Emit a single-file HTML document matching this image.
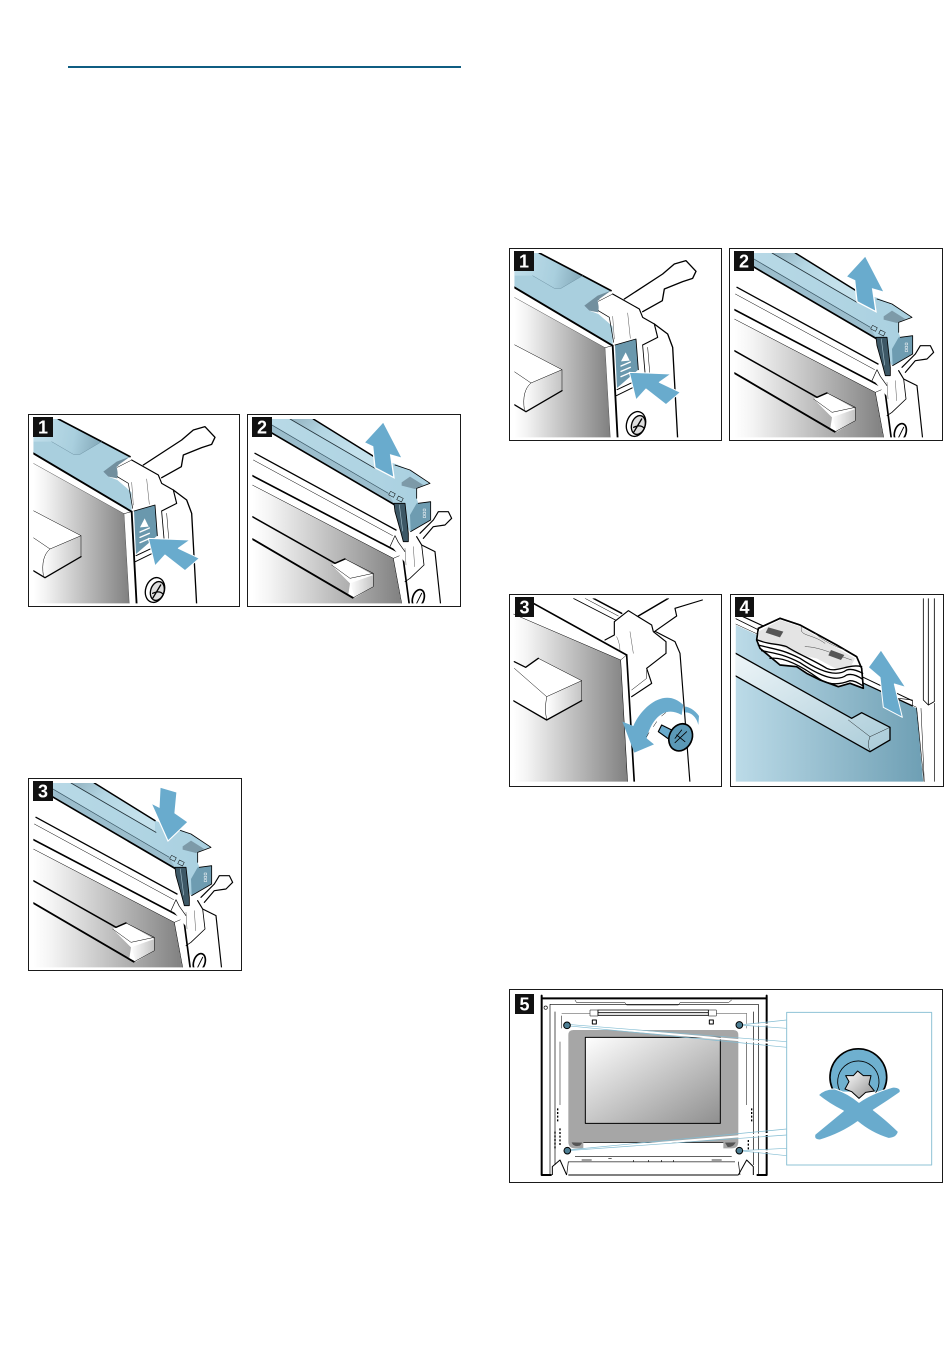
<!DOCTYPE html>
<html><head><meta charset="utf-8"><title>Diagram</title>
<style>html,body{margin:0;padding:0;background:#fff}svg{display:block}
text{font-family:"Liberation Sans",sans-serif;font-weight:bold;fill:#fff;text-anchor:middle}</style></head>
<body>
<svg xmlns="http://www.w3.org/2000/svg" width="950" height="1370" viewBox="0 0 950 1370">
<defs>
<linearGradient id="g" x1="0" x2="1" y1="0" y2="0"><stop offset="0" stop-color="#fff"/><stop offset=".12" stop-color="#f4f4f4"/><stop offset="1" stop-color="#808080"/></linearGradient>
<linearGradient id="gd" x1="0" x2="1" y1="0" y2="1"><stop offset="0" stop-color="#fff"/><stop offset="1" stop-color="#8f8f8f"/></linearGradient>
<linearGradient id="gh" x1="0" x2="1" y1="0" y2="0"><stop offset="0" stop-color="#fff"/><stop offset="1" stop-color="#c4c4c4"/></linearGradient>
<linearGradient id="b" x1="0" x2="1" y1="0" y2="0"><stop offset="0" stop-color="#bcdbe8"/><stop offset="1" stop-color="#6e9fb4"/></linearGradient>
<linearGradient id="bh" x1="0" x2="1" y1="0" y2="1"><stop offset="0" stop-color="#eef5f8"/><stop offset="1" stop-color="#a9cbd8"/></linearGradient>
<linearGradient id="bar" x1="0" x2="1" y1="0" y2="0"><stop offset="0" stop-color="#b8d9e6"/><stop offset="1" stop-color="#a9d0e0"/></linearGradient>
<linearGradient id="lite" gradientUnits="userSpaceOnUse" x1="40" y1="70" x2="245" y2="110"><stop offset="0" stop-color="#c0deea"/><stop offset=".6" stop-color="#a9cfde"/><stop offset="1" stop-color="#83a8b8"/></linearGradient>
<linearGradient id="top2" gradientUnits="userSpaceOnUse" x1="790" y1="40" x2="960" y2="190"><stop offset="0" stop-color="#8cabb9"/><stop offset=".5" stop-color="#b4d6e3"/><stop offset="1" stop-color="#c4e1ec"/></linearGradient>
<clipPath id="c1"><rect x="40" y="42" width="615" height="553"/></clipPath>
<clipPath id="c2"><rect x="697" y="42" width="620" height="553"/></clipPath>
<clipPath id="c3"><rect x="25" y="25" width="615" height="550"/></clipPath>
<clipPath id="c4"><rect x="692" y="25" width="615" height="550"/></clipPath>

<g id="s1" clip-path="url(#c1)" fill="none" stroke="#000" stroke-linejoin="round" stroke-linecap="round">
  <polygon points="40,175 312,326 328,600 40,600" fill="url(#g)" stroke="none"/>
  <polyline points="40,175 312,326 328,600" stroke-width="1.5" stroke="#555"/>
  <polygon points="40,315 183,392 183,455 75,518 40,497" fill="#fff" stroke="none"/>
  <polygon points="90,432 183,392 183,455 75,518 68,460" fill="url(#gh)" stroke="none"/>
  <polyline points="40,317 183,392 183,455" stroke-width="1.5"/>
  <polyline points="183,455 75,518 40,497" stroke-width="4"/>
  <polyline points="40,398 90,432 183,392" stroke-width="1.5"/>
  <path d="M90,432 Q62,455 70,512" stroke-width="1.5"/>
  <polyline points="370,180 485,105 520,75 555,65 585,97 575,118 545,128 490,150 484,185 425,218" fill="#fff" stroke-width="4"/>
  <polyline points="460,255 500,285 515,325 530,600" stroke-width="4"/>
  <polygon points="40,42 115,42 330,155 265,200 265,215 292,225 335,262 335,322 40,145" fill="#a9cfde" stroke="none"/>
  <polygon points="40,42 115,42 245,110 180,148 160,148 95,110 40,110" fill="url(#lite)" stroke="none"/>
  <polyline points="115,42 245,110 330,155" stroke-width="5"/>
  <polyline points="95,110 160,148 180,148 245,110" stroke-width="1.5" stroke="#6f93a4"/>
  <line x1="40" y1="145" x2="335" y2="320" stroke-width="5.5"/>
  <polyline points="335,320 350,600" stroke-width="5.5"/>
  <polyline points="312,326 335,320" stroke-width="1.5"/>
  <polygon points="250,200 290,170 330,155 295,180 292,220 265,215" fill="#728f9e" stroke="none"/>
  <polygon points="290,185 335,165 415,210 425,235 460,255 468,292 425,318 355,318 335,265 325,230 295,215" fill="#fff" stroke="none"/>
  <polyline points="335,165 415,210 425,235 460,255 470,295 425,318" stroke-width="3.5"/>
  <polyline points="292,187 335,165" stroke-width="1.5"/>
  <polyline points="292,215 325,235 338,310" stroke-width="2"/>
  <polyline points="335,232 340,300" stroke-width="1"/><polyline points="380,222 388,298" stroke-width="1"/>
  <polygon points="342,318 405,300 412,392 348,447" fill="#6a98ad" stroke="none"/>
  <polyline points="342,318 405,300 412,392" stroke-width="2.5"/>
  <polygon points="374,340 386,365 360,367" fill="#fff" stroke="none"/>
  <g stroke="#fff" stroke-width="4"><line x1="360" y1="381" x2="388" y2="369"/><line x1="360" y1="397" x2="388" y2="385"/><line x1="360" y1="413" x2="388" y2="401"/></g>
  <polyline points="348,452 395,430" stroke-width="3"/><polyline points="346,470 395,446" stroke-width="3"/>
  <polyline points="425,320 432,400" stroke-width="2.5"/><polyline points="440,325 446,400" stroke-width="1.5"/>
  <polygon points="385,400 510,405 475,430 538,460 495,497 435,450 405,483" fill="#69abcd" stroke="#fff" stroke-width="3"/>
  <ellipse cx="405" cy="555" rx="28" ry="38" transform="rotate(18 405 555)" fill="#fff" stroke-width="4"/>
  <ellipse cx="412" cy="558" rx="20" ry="29" transform="rotate(18 412 558)" fill="#ddd" stroke-width="4"/>
  <path d="M398,580 L422,540 M398,565 Q418,555 430,568" stroke-width="4"/>
</g>

<g id="s2" fill="none" stroke="#000" stroke-linejoin="round" stroke-linecap="round">
  <g clip-path="url(#c2)">
  <polygon points="697,240 1120,460 1145,600 697,600" fill="url(#g)" stroke="none"/>
  <line x1="705" y1="145" x2="1128" y2="375" stroke-width="4"/>
  <line x1="700" y1="165" x2="1118" y2="392" stroke-width="1.5"/>
  <line x1="697" y1="212" x2="1148" y2="448" stroke-width="5"/>
  <line x1="697" y1="240" x2="1120" y2="460" stroke-width="1.5"/>
  <polyline points="1120,460 1146,600" stroke-width="1.5"/>
  <polyline points="1148,448 1168,600" stroke-width="5"/>
  <polyline points="1120,460 1148,448" stroke-width="1.5"/>
  <polygon points="935,480 975,462 1060,510 1060,545 1005,578 985,568 990,535" fill="#fff" stroke="none"/>
  <polygon points="990,535 1060,510 1060,545 1005,578" fill="url(#gh)" stroke="none"/>
  <polyline points="697,335 945,475 975,462" stroke-width="4.5"/>
  <polyline points="935,480 990,520 1060,505 1060,545 1000,578" stroke-width="1.5"/>
  <polyline points="975,462 1060,505" stroke-width="1.5"/>
  <line x1="697" y1="402" x2="998" y2="578" stroke-width="5.5"/>
  <polyline points="1200,385 1240,345 1255,320 1285,320 1295,340 1275,360 1240,365 1210,400" fill="#fff" stroke-width="3.5"/>
  <polyline points="1120,430 1130,395 1138,385 1200,405 1205,420 1245,440 1262,600" fill="#fff" stroke="none"/>
  <polyline points="1110,425 1125,392 1135,412 1155,440" stroke-width="2"/>
  <polyline points="1190,395 1205,420 1245,440 1262,600" stroke-width="3.5"/>
  <polyline points="1205,420 1212,480 1170,520 1155,530" stroke-width="2.5"/>
  <line x1="1155" y1="430" x2="1158" y2="480" stroke-width="1" /><line x1="1180" y1="425" x2="1184" y2="485" stroke-width="1"/>
  <ellipse cx="1195" cy="580" rx="17" ry="27" transform="rotate(18 1195 580)" fill="#fff" stroke-width="5"/>
  <path d="M1190,595 L1205,565" stroke-width="3"/>
  <polygon points="752,42 880,42 1062,155 1130,178 1170,195 1230,235 1190,250 1190,280 1195,295 1232,290 1232,345 1170,380 1160,365 1130,295 1125,300 752,82" fill="url(#bar)" stroke="none"/>
  <polygon points="810,42 880,42 1062,155 1062,190" fill="url(#top2)" stroke="none"/>
  <polygon points="752,56 1105,265 1125,300 752,82" fill="#9cbecd" stroke="none"/>
  <line x1="752" y1="58" x2="1105" y2="265" stroke="#3c5866" stroke-width="2"/>
  <line x1="880" y1="42" x2="1062" y2="155" stroke-width="4.5"/>
  <line x1="810" y1="42" x2="1065" y2="190" stroke="#23333b" stroke-width="2.5"/>
  <line x1="752" y1="82" x2="1125" y2="300" stroke-width="5"/>
  <polygon points="1190,295 1232,290 1232,345 1172,380 1170,330" fill="#6e9cb1" stroke="none"/>
  <polyline points="1195,295 1232,290 1232,345 1172,380" stroke-width="2.5"/>
  <polygon points="1145,232 1170,215 1210,240 1185,252 1145,242" fill="#7d9aa8" stroke="none"/>
  <polyline points="1125,180 1170,195 1230,235 1190,250 1190,280" stroke-width="2.5"/>
  <polygon points="1122,295 1155,295 1165,385 1165,410 1150,410 1142,380 1125,320" fill="#3d5866" stroke-width="2.5"/>
  <line x1="1138" y1="300" x2="1148" y2="378" stroke="#9fbcc9" stroke-width="2"/>
  <g fill="#6a96ac" stroke="#fff" stroke-width="1.5"><rect x="1210" y="312" width="7" height="6"/><rect x="1210" y="322" width="7" height="6"/><rect x="1210" y="332" width="7" height="6"/></g>
  <rect x="1108" y="262" width="16" height="12" stroke-width="1.5" transform="rotate(27 1116 268)"/>
  <rect x="1132" y="276" width="16" height="12" stroke-width="1.5" transform="rotate(27 1140 282)"/>
  </g>
</g>
</defs>

<!-- top rule -->
<rect x="68" y="66" width="393" height="2" fill="#0f5d82"/>

<!-- frames -->
<g fill="#fff" stroke="#1a1a1a" stroke-width="1">
<rect x="28.5" y="414.5" width="211" height="192"/>
<rect x="247.5" y="414.5" width="213" height="192"/>
<rect x="28.5" y="778.5" width="213" height="192"/>
<rect x="509.5" y="248.5" width="212" height="192"/>
<rect x="729.5" y="248.5" width="213" height="192"/>
<rect x="509.5" y="594.5" width="212" height="192"/>
<rect x="730.5" y="594.5" width="213" height="192"/>
<rect x="509.5" y="989.5" width="433" height="193"/>
</g>

<!-- scene 1 / 2 left -->
<g transform="translate(20,405) scale(.33333)">
  <use href="#s1"/>
  <use href="#s2"/>
  <polygon points="1090,50 1147,160 1112,150 1122,218 1065,188 1058,125 1032,113" fill="#69abcd" stroke="#fff" stroke-width="4"/>
</g>
<!-- scene 3 left -->
<g transform="translate(-199,769) scale(.33333)"><use href="#s2"/></g>
<polygon points="160,787 177,792 175,813 188,822 168,841 151,803 159,807" fill="#69abcd" stroke="#fff" stroke-width="1.2"/>

<!-- right 1 / 2 -->
<g transform="translate(501,239) scale(.33333)"><use href="#s1"/></g>
<g transform="translate(502,239) scale(.33333)">
  <use href="#s2"/>
  <polygon points="1090,50 1147,160 1112,150 1122,218 1065,188 1058,125 1032,113" fill="#69abcd" stroke="#fff" stroke-width="4"/>
</g>

<!-- right 3 / 4 -->
<g transform="translate(505,590) scale(.33333)" fill="none" stroke="#000" stroke-linejoin="round" stroke-linecap="round">
 <g clip-path="url(#c3)">
  <polygon points="25,72 347,210 368,580 25,580" fill="url(#g)" stroke="none"/>
  <polyline points="25,72 347,210 368,580" stroke-width="1.5"/>
  <line x1="85" y1="40" x2="365" y2="195" stroke-width="5"/>
  <line x1="365" y1="195" x2="388" y2="580" stroke-width="5"/>
  <line x1="347" y1="210" x2="365" y2="195" stroke-width="1.5"/>
  <polygon points="25,225 62,232 100,205 230,272 230,332 125,390 25,330" fill="#fff" stroke="none"/>
  <polygon points="125,320 230,272 230,332 125,390" fill="url(#gh)" stroke="none"/>
  <polyline points="28,215 62,232 100,205" stroke-width="4"/>
  <polyline points="100,205 230,272 230,332" stroke-width="1.5"/>
  <polyline points="230,332 125,390 25,332" stroke-width="4"/>
  <polyline points="28,235 125,320 230,272" stroke-width="1.5"/>
  <path d="M125,320 Q118,360 125,388" stroke-width="1.5"/>
  <line x1="205" y1="25" x2="335" y2="92" stroke-width="2.5"/>
  <line x1="240" y1="25" x2="340" y2="78" stroke-width="1.5"/>
  <line x1="265" y1="25" x2="350" y2="70" stroke-width="4.5"/>
  <polyline points="400,78 490,25" stroke-width="4.5"/>
  <polyline points="448,125 515,78 510,55 592,30" stroke-width="3.5"/>
  <polyline points="452,125 510,155 525,190 555,580" stroke-width="3.5"/>
  <polygon points="300,150 328,135 328,95 370,62 440,105 445,125 483,155 483,190 425,235 440,280 380,320 372,190" fill="#fff" stroke="none"/>
  <polyline points="300,150 328,135 328,95 370,62 440,105 445,125 483,155 483,190 425,235 440,280 380,320" stroke-width="3.5"/>
  <path d="M335,140 Q345,160 345,185 M375,125 L385,190" stroke-width="1"/>
  <polyline points="380,300 425,265 425,240" stroke-width="1.5"/>
  <path d="M352,395 L385,408 C410,350 480,290 535,345 L530,375 C480,345 440,385 425,445 L447,463 L388,488 Z" fill="#69abcd" stroke="none"/>
  <path d="M540,368 C555,365 575,380 580,405 L582,378 C570,360 550,350 540,350 Z" fill="#69abcd" stroke="none"/>
  <path d="M482,368 L470,378 M455,395 L445,410 M432,428 L425,440" stroke-width="1.5"/>
  <polygon points="470,405 510,425 495,450 460,425" fill="#69abcd" stroke-width="3.5"/>
  <ellipse cx="527" cy="442" rx="34" ry="42" transform="rotate(25 527 442)" fill="#5b99b7" stroke-width="5"/>
  <path d="M510,458 L545,425 M515,435 L540,455 M530,420 L510,445" stroke-width="2.5"/>
 </g>
 <g clip-path="url(#c4)">
  <polygon points="692,105 1235,355 1255,580 692,580" fill="url(#b)" stroke="none"/>
  <polyline points="1235,355 1258,580" stroke-width="2.5"/>
  <polygon points="1235,345 1248,355 1272,580 1258,580" fill="#fff" stroke="none"/>
  <line x1="1248" y1="355" x2="1258" y2="580" stroke="#000" stroke-width="1.5"/>
  <line x1="692" y1="70" x2="775" y2="108" stroke-width="3.5"/>
  <line x1="692" y1="86" x2="765" y2="122" stroke-width="2.5"/>
  <line x1="692" y1="102" x2="1235" y2="352" stroke-width="1.5"/>
  <line x1="1075" y1="262" x2="1222" y2="332" stroke-width="3"/>
  <line x1="1075" y1="280" x2="1222" y2="348" stroke-width="3"/>
  <polygon points="692,190 1040,385 1070,368 1155,412 1155,450 1095,485 692,260" fill="url(#bh)" stroke="none"/>
  <polyline points="692,190 1040,385 1070,368 1155,412 1155,450 1095,485 692,258" stroke-width="4"/>
  <polyline points="1030,390 1095,440 1155,412" stroke-width="1.2"/>
  <path d="M1095,440 Q1085,465 1095,482" stroke-width="1.2"/>
  <polygon points="760,115 825,85 885,105 995,165 1055,200 1070,235 1075,295 1035,280 1000,290 945,270 905,250 875,230 825,225 765,175 755,150" fill="#fff" stroke-width="5"/>
  <polygon points="760,125 825,90 885,110 1050,205 1040,225 1000,240 935,205 880,195 820,165 760,150" fill="#e4e4e4" stroke="none"/>
  <polyline points="760,115 825,85 885,105 995,165 1055,200" stroke-width="4.5"/>
  <path d="M758,150 C795,165 815,160 845,170 C885,195 925,210 965,235 C995,250 1030,220 1070,230" stroke-width="4"/>
  <path d="M760,165 C805,178 825,175 885,205 C945,245 995,262 1025,240 C1040,235 1055,240 1073,250" stroke-width="4"/>
  <path d="M770,182 C805,190 830,190 885,218 C945,258 995,278 1025,255 C1040,250 1055,255 1073,268" stroke-width="4"/>
  <path d="M795,205 C835,200 885,225 940,265 C975,290 1010,282 1035,272 C1050,272 1060,280 1075,288" stroke-width="4"/>
  <path d="M890,110 C880,140 920,130 960,160 M900,170 C940,170 980,190 1040,210 M930,130 C950,150 990,170 1020,180" stroke-width="1.5" stroke="#444"/>
  <g fill="#555" stroke="none"><polygon points="790,112 835,125 825,142 782,128"/><polygon points="978,180 1018,195 1008,210 970,196"/></g>
  <polygon points="1128,180 1202,292 1168,282 1192,382 1135,352 1125,262 1090,232" fill="#69abcd" stroke="#fff" stroke-width="3"/>
  <polyline points="1255,25 1255,330 1270,345 1288,335 1288,25" stroke-width="2.5" fill="#fff"/>
  <line x1="1270" y1="25" x2="1270" y2="345" stroke-width="2.5"/>
  <line x1="1288" y1="340" x2="1288" y2="580" stroke-width="2"/>
  <polyline points="1180,325 1222,330 1222,348" stroke-width="2"/>
 </g>
</g>

<!-- scene 5 -->
<g transform="translate(505,985) scale(.33333)" fill="none" stroke="#000" stroke-linejoin="round">
  <polyline points="140,570 110,570 110,32 110,40 785,40 785,32 785,40 785,570 755,570" stroke-width="6"/>
  <polyline points="135,570 135,58 760,58 760,570" stroke-width="2"/>
  <polyline points="210,45 215,53 360,53 365,60 520,60 525,53 670,53 680,45" stroke-width="1.5"/>
  <polyline points="150,80 150,540" stroke-width="2"/>
  <polyline points="745,80 745,540" stroke-width="2"/>
  <rect x="255" y="75" width="24" height="18" stroke-width="1.5"/>
  <rect x="610" y="75" width="24" height="18" stroke-width="1.5"/>
  <rect x="279" y="75" width="331" height="16" fill="#fff" stroke-width="2.5"/>
  <line x1="279" y1="83" x2="610" y2="83" stroke-width="2.5"/>
  <line x1="170" y1="92" x2="170" y2="130" stroke-width="1.5"/>
  <path d="M170,85 H255 M634,85 H725 V130" stroke-width="1.5" stroke="#444"/>
  <line x1="165" y1="170" x2="165" y2="360" stroke-width="1.5"/>
  <line x1="725" y1="170" x2="725" y2="360" stroke-width="1.5"/>
  <rect x="262" y="105" width="12" height="12" stroke-width="3"/>
  <rect x="613" y="105" width="12" height="12" stroke-width="3"/>
  <path d="M205,135 H685 Q700,135 700,150 V470 Q700,490 680,490 H210 Q190,490 190,470 V150 Q190,135 205,135 Z" fill="#a6a6a6" stroke="none"/>
  <rect x="235" y="473" width="420" height="20" fill="#fff" stroke="none"/>
  <line x1="235" y1="473" x2="655" y2="473" stroke-width="2"/>
  <path d="M200,472 Q205,487 225,482 L232,473 Z M660,473 L668,486 Q685,487 692,472 Z" fill="#555" stroke="none"/>
  <rect x="241" y="157" width="405" height="258" fill="url(#gd)" stroke-width="3"/>
  <line x1="190" y1="530" x2="690" y2="530" stroke="#888" stroke-width="4"/>
  <line x1="210" y1="515" x2="680" y2="515" stroke-width="2"/>
  <line x1="190" y1="570" x2="700" y2="570" stroke-width="3"/>
  <path d="M190,530 L185,570 M700,530 L705,570" stroke-width="2"/>
  <path d="M142,570 V545 L165,525 L185,570 M745,570 V545 L725,525 L700,570" stroke-width="3"/>
  <path d="M150,440 v50 M158,370 v40 M740,370 v40 M730,465 v30 M165,430 v50" stroke-width="4" stroke-dasharray="6 5"/>
  <path d="M230,525 h30 M310,520 h10 M385,525 v6 M430,525 v6 M470,525 v6 M505,525 v6 M620,525 h30" stroke-width="2"/>
  <g stroke="#fff" stroke-width="6"><path d="M185,120 L845,178 M703,120 L845,118 M187,497 L845,442 M703,497 L845,500"/></g>
  <g stroke="#82bcd2" stroke-width="2"><path d="M185,118 L845,170 M185,122 L845,187 M703,120 L845,105 M703,120 L845,130 M187,495 L845,432 M187,497 L845,450 M703,497 L845,490 M703,497 L845,512"/></g>
  <g fill="#4d7e93" stroke-width="3"><circle cx="186" cy="121" r="10"/><circle cx="703" cy="120" r="10"/><circle cx="187" cy="497" r="10"/><circle cx="703" cy="497" r="10"/></g>
  <circle cx="122" cy="68" r="5" stroke-width="2"/>
  <rect x="845" y="82" width="435" height="458" fill="#fff" stroke="#8fc3d6" stroke-width="3"/>
  <path d="M987,320 A85,85 0 1 1 1133,320" fill="#6fb0cf" stroke-width="5"/>
  <path d="M1009,325 A62,62 0 1 1 1111,325" stroke-width="2.5"/>
  <polygon points="1058,258 1075,272 1098,272 1092,298 1108,318 1082,322 1062,340 1040,320 1020,312 1032,290 1022,272 1045,272" fill="url(#gd)" stroke-width="3"/>
  <path d="M940,330 Q960,310 990,312 Q1030,325 1062,352 Q1100,325 1165,306 Q1190,308 1185,322 Q1160,340 1105,375 Q1150,410 1180,440 Q1175,460 1150,460 Q1100,445 1058,410 Q1010,445 945,465 Q925,465 930,448 Q970,415 1015,378 Q970,355 940,330 Z" fill="#69abcd" stroke="#fff" stroke-width="3"/>
</g>

<!-- badges -->
<g font-size="18">
<rect x="33" y="417" width="20" height="20" fill="#111"/><text x="43" y="433.5">1</text>
<rect x="252" y="417" width="20" height="20" fill="#111"/><text x="262" y="433.5">2</text>
<rect x="33" y="781" width="20" height="20" fill="#111"/><text x="43" y="797.5">3</text>
<rect x="514" y="251" width="20" height="20" fill="#111"/><text x="524" y="267.5">1</text>
<rect x="734" y="251" width="20" height="20" fill="#111"/><text x="744" y="267.5">2</text>
<rect x="515" y="597" width="19" height="20" fill="#111"/><text x="524.5" y="613.5">3</text>
<rect x="735" y="597" width="19" height="20" fill="#111"/><text x="744.5" y="613.5">4</text>
<rect x="515" y="994" width="19" height="20" fill="#111"/><text x="524.5" y="1010.5">5</text>
</g>
</svg>
</body></html>
